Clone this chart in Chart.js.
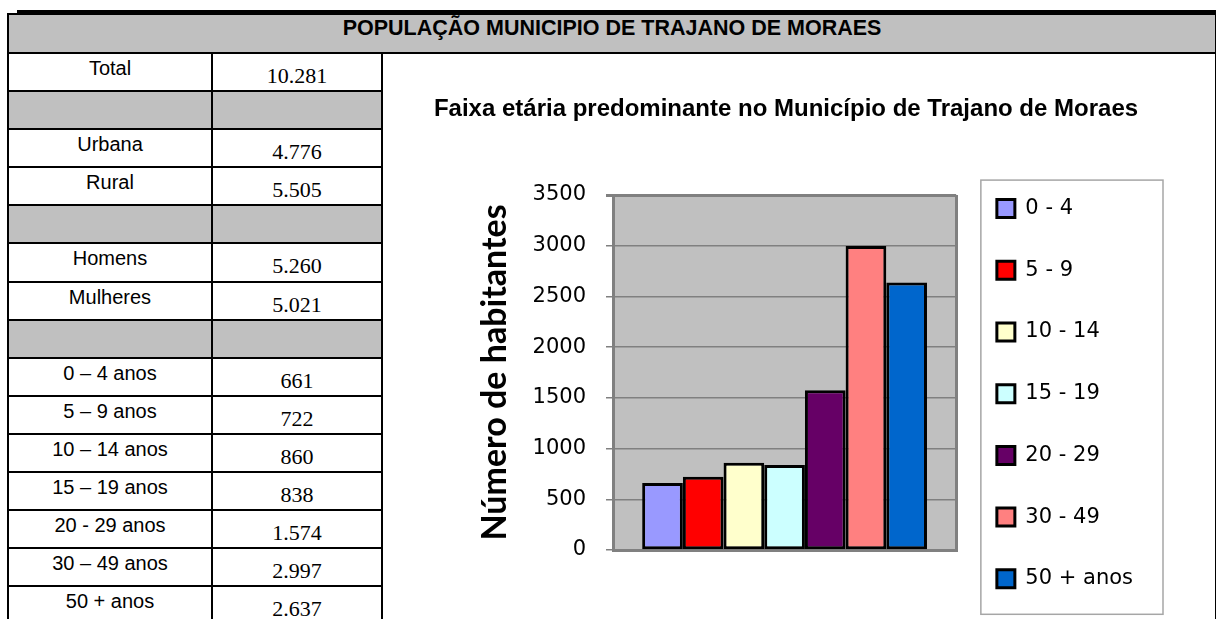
<!DOCTYPE html>
<html lang="pt-BR">
<head>
<meta charset="utf-8">
<title>População Município de Trajano de Moraes</title>
<script src="https://cdn.jsdelivr.net/npm/chart.js@4.4.1/dist/chart.umd.min.js"></script>
<style>
    html, body { margin: 0; padding: 0; background: #fff; overflow: hidden; }
    body { width: 1216px; height: 619px; position: relative; }
    .top-rule { position: absolute; left: 17px; top: 10px; width: 1199px; height: 4px; background: #000; }
    table { position: absolute; left: 7px; top: 13px; border-collapse: collapse; table-layout: fixed; width: 1208px; }
    td { border: 2px solid #000; padding: 0; vertical-align: top; text-align: center; color: #000; }
    tr { height: 38.1px; }
    tr.cab { height: 39px; }
    tr.cab td { background: #c0c0c0; font: bold 21.5px 'Liberation Sans', Arial, sans-serif; line-height: 24px; padding-top: 1px; }
    td.rot { font: 20px 'Liberation Sans', Arial, sans-serif; line-height: 23px; padding-top: 3px; }
    td.num { font: 22px 'Liberation Serif', 'Times New Roman', serif; line-height: 25px; padding-top: 9px; }
    td.cinza { background: #c0c0c0; }
    #grafico { position: absolute; left: 429px; top: 53px; }
</style>
</head>
<body>
<div class="top-rule"></div>
<table>
    <colgroup><col style="width:204px"><col style="width:170px"><col style="width:834px"></colgroup>
    <tbody id="corpo">
        <tr class="cab"><td colspan="3">POPULAÇÃO MUNICIPIO DE TRAJANO DE MORAES</td></tr>
    </tbody>
</table>
<canvas id="grafico" width="754" height="577"></canvas>

<script>
// Tabela: resumo da população
const linhasResumo = ['Total', '', 'Urbana', 'Rural', '', 'Homens', 'Mulheres', ''];
const valoresResumo = [10281, null, 4776, 5505, null, 5260, 5021, null];

// Faixas etárias (tabela e gráfico)
const faixasTabela = ['0 – 4 anos', '5 – 9 anos', '10 – 14 anos', '15 – 19 anos', '20 - 29 anos', '30 – 49 anos', '50 + anos'];
const faixas = ['0 - 4', '5 - 9', '10 - 14', '15 - 19', '20 - 29', '30 - 49', '50 + anos'];
const habitantes = [661, 722, 860, 838, 1574, 2997, 2637];
const cores = ['#9999ff', '#ff0000', '#ffffcc', '#ccffff', '#660066', '#ff8080', '#0066cc'];

function milhar(n) {
    return String(n).replace(/\B(?=(\d{3})+(?!\d))/g, '.');
}

// Monta as linhas da tabela
function montarTabela() {
    const corpo = document.getElementById('corpo');
    const rotulos = linhasResumo.concat(faixasTabela);
    const valores = valoresResumo.concat(habitantes);

    rotulos.forEach((rotulo, i) => {
        const tr = document.createElement('tr');
        const vazio = valores[i] === null;
        tr.innerHTML = vazio
            ? '<td class="cinza"></td><td class="cinza"></td>'
            : `<td class="rot">${rotulo}</td><td class="num">${milhar(valores[i])}</td>`;
        if (i === 0) {
            const cel = document.createElement('td');
            cel.rowSpan = rotulos.length;
            tr.appendChild(cel);
        }
        corpo.appendChild(tr);
    });
}

// Fundo cinza da área de plotagem
const fundoPlotagem = {
    id: 'fundoPlotagem',
    beforeDraw(chart) {
        const { ctx, chartArea: { left, top, width, height } } = chart;
        ctx.save();
        ctx.fillStyle = '#c0c0c0';
        ctx.fillRect(left, top, width, height);
        ctx.restore();
    }
};

// Moldura em volta da legenda
const molduraLegenda = {
    id: 'molduraLegenda',
    afterDraw(chart) {
        const caixas = chart.legend.legendHitBoxes;
        if (!caixas || !caixas.length) return;
        const primeira = caixas[0];
        const ultima = caixas[caixas.length - 1];
        const esq = primeira.left - 16;
        const topo = primeira.top - 18;
        const dir = Math.max(...caixas.map(c => c.left + c.width)) + 30;
        const base = ultima.top + ultima.height + 25;
        const ctx = chart.ctx;
        ctx.save();
        ctx.strokeStyle = '#a6a6a6';
        ctx.lineWidth = 1.5;
        ctx.strokeRect(esq, topo, dir - esq, base - topo);
        ctx.restore();
    }
};

function montarGrafico() {
    const ctx = document.getElementById('grafico').getContext('2d');
    new Chart(ctx, {
        type: 'bar',
        data: {
            labels: [''],
            datasets: faixas.map((faixa, i) => ({
                label: faixa,
                data: [habitantes[i]],
                backgroundColor: cores[i],
                borderColor: '#000',
                borderWidth: 3,
                borderSkipped: false,
                categoryPercentage: 0.83,
                barPercentage: 1,
            })),
        },
        options: {
            responsive: false,
            animation: false,
            layout: { padding: { left: 0, right: 40, top: 0, bottom: 0 } },
            scales: {
                x: {
                    grid: { color: '#808080', lineWidth: 3, drawTicks: false },
                    border: { color: '#808080', width: 3 },
                    ticks: { display: false },
                    afterFit: (scale) => { scale.height = 80; },
                },
                y: {
                    min: 0,
                    max: 3500,
                    ticks: {
                        stepSize: 500,
                        padding: 20,
                        color: '#000',
                        font: { family: 'DejaVu Sans', size: 21 },
                        format: { useGrouping: false },
                    },
                    grid: {
                        color: '#808080',
                        lineWidth: (c) => (c.tick && c.tick.value === 3500 ? 3 : 1.5),
                        tickLength: 7,
                    },
                    border: { color: '#808080', width: 3 },
                    title: {
                        display: true,
                        text: 'Número de habitantes',
                        color: '#000',
                        font: { family: 'Lato', size: 34, weight: 'bold' },
                        padding: { top: 46, bottom: 0 },
                    },
                    afterFit: (scale) => { scale.width = 184; },
                },
            },
            plugins: {
                title: {
                    display: true,
                    text: 'Faixa etária predominante no Município de Trajano de Moraes',
                    color: '#000',
                    font: { family: 'Liberation Sans', size: 24, weight: 'bold' },
                    padding: { top: 41.6, bottom: 71.6 },
                },
                legend: {
                    position: 'right',
                    align: 'end',
                    maxWidth: 300,
                    labels: {
                        boxWidth: 18,
                        boxHeight: 18,
                        padding: 40.7,
                        color: '#000',
                        font: { family: 'DejaVu Sans', size: 21 },
                    },
                },
                tooltip: { enabled: false },
            },
        },
        plugins: [fundoPlotagem, molduraLegenda],
    });
}

document.addEventListener('DOMContentLoaded', () => {
    montarTabela();
    montarGrafico();
});
</script>
</body>
</html>
